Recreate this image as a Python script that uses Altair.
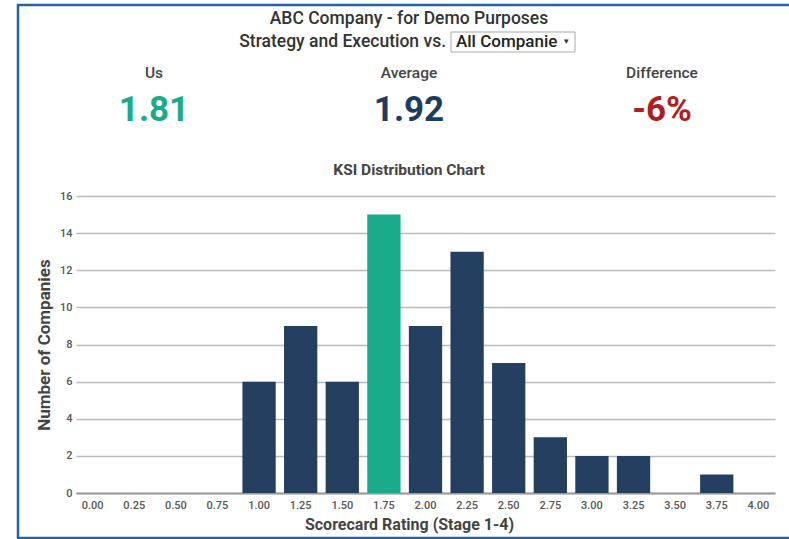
import altair as alt
import pandas as pd

# ---- data ----
ratings = ["0.00", "0.25", "0.50", "0.75", "1.00", "1.25", "1.50", "1.75",
           "2.00", "2.25", "2.50", "2.75", "3.00", "3.25", "3.50", "3.75", "4.00"]
counts = [0, 0, 0, 0, 6, 9, 6, 15, 9, 13, 7, 3, 2, 2, 0, 1, 0]
us_bin = "1.75"

kpi_labels = ["Us", "Average", "Difference"]
kpi_values = ["1.81", "1.92", "-6%"]
kpi_colors = ["#1aab8a", "#1b3d5e", "#b01e1e"]

title_line1 = "ABC Company - for Demo Purposes"
title_line2 = "Strategy and Execution vs."
dropdown_text = "All Companie"
chart_title = "KSI Distribution Chart"

# ---- layout (plot area origin at page (76,196)) ----
L, T, W, H = 76, 196, 699, 297
FONT = "Roboto"
NAVY = "#243f5f"
GREEN = "#1aab8a"
CENTER_X = 409

bars_df = pd.DataFrame({"rating": ratings, "count": counts})
one = pd.DataFrame({"k": [0]})

bars = alt.Chart(bars_df).mark_bar().encode(
    x=alt.X("rating:N", sort=ratings,
            scale=alt.Scale(paddingInner=0.2, paddingOuter=0),
            axis=alt.Axis(title="Scorecard Rating (Stage 1-4)", labelAngle=0,
                          labelFontSize=11, labelFontWeight=500, labelColor="#555",
                          labelPadding=6, ticks=False, domainColor="#999",
                          domainWidth=2, titleFontSize=16, titleFontWeight="bold",
                          titleColor="#444", titlePadding=6, labelFont=FONT,
                          titleFont=FONT, titleX=CENTER_X - L, titleAlign="center")),
    y=alt.Y("count:Q", scale=alt.Scale(domain=[0, 16], nice=False),
            axis=alt.Axis(title="Number of Companies", values=list(range(0, 17, 2)),
                          labelFontSize=11, labelFontWeight=500, labelColor="#555",
                          labelPadding=4, ticks=False, domain=False,
                          gridColor="#bbbbbb", gridWidth=1.5,
                          titleFontSize=17, titleFontWeight="bold", titleColor="#444",
                          titlePadding=6, labelFont=FONT, titleFont=FONT)),
    color=alt.condition(alt.datum.rating == us_bin, alt.value(GREEN), alt.value(NAVY)),
)

def txt(text, x, y, size, color, weight=500, align="center", font=FONT):
    return alt.Chart(one).mark_text(
        text=text, fontSize=size, color=color, fontWeight=weight, align=align,
        baseline="middle", font=font
    ).encode(x=alt.value(x - L), y=alt.value(y - T))

layers = [bars]

# border
layers.append(alt.Chart(one).mark_rect(fillOpacity=0, stroke="#2563a3", strokeWidth=2.5).encode(
    x=alt.value(18 - L), x2=alt.value(820 - L), y=alt.value(5 - T), y2=alt.value(538 - T)))

# header
layers.append(txt(title_line1, CENTER_X, 19, 17.5, "#333"))
layers.append(txt(title_line2, 446, 42, 17.5, "#333", align="right"))
layers.append(alt.Chart(one).mark_rect(fill="white", stroke="#aaa", strokeWidth=1).encode(
    x=alt.value(451 - L), x2=alt.value(575 - L), y=alt.value(32 - T), y2=alt.value(52 - T)))
layers.append(txt(dropdown_text, 456, 42, 17, "#222", align="left"))
layers.append(txt("▾", 566, 41, 9, "#333"))

kpi_x = [154, 409, 662]
for lab, val, col, xx in zip(kpi_labels, kpi_values, kpi_colors, kpi_x):
    layers.append(txt(lab, xx, 73, 15.5, "#444"))
    layers.append(txt(val, xx, 110, 35, col, weight="bold"))

layers.append(txt(chart_title, CENTER_X, 170, 15.5, "#444", weight="bold"))

chart = alt.layer(*layers).properties(
    width=W, height=H,
    background="white",
    autosize=alt.AutoSizeParams(type="none"),
    padding={"left": L, "top": T, "right": 789 - L - W, "bottom": 539 - T - H},
).configure_view(stroke=None)

chart.save("out.html", embed_options={"renderer": "svg", "actions": False})
